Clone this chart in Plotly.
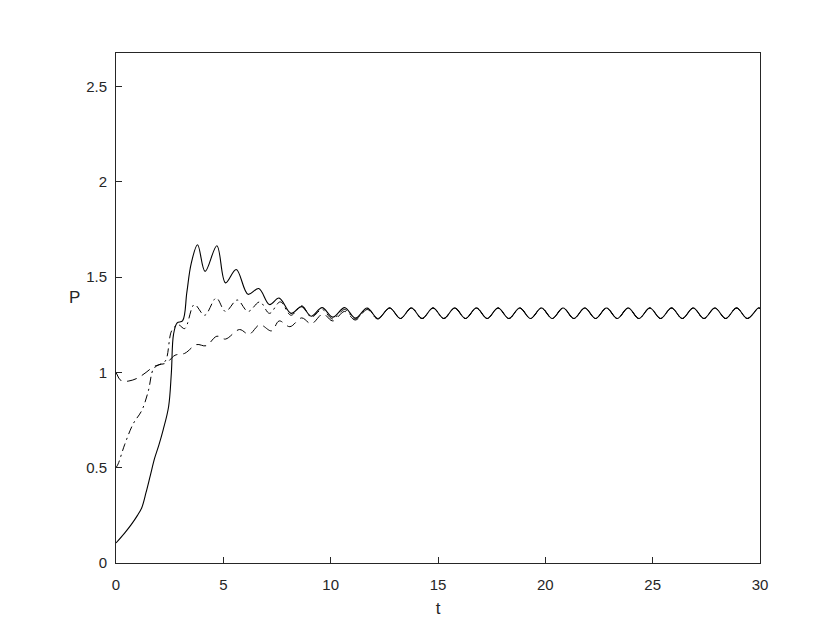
import plotly.graph_objects as go

# ---- data ----
solid_t = [0, 0.4, 0.7, 1.0, 1.2, 1.4, 1.6, 1.8, 2.0, 2.2, 2.45, 2.58, 2.68, 2.85, 3.1, 3.3, 3.5, 3.8, 4.15, 4.7, 5.1, 5.6, 6.15, 6.65, 7.15, 7.6, 8.15, 8.65, 9.1, 9.6, 10.1, 10.65, 11.15, 11.7, 12.2]
solid_p = [0.105, 0.157, 0.20, 0.25, 0.29, 0.37, 0.46, 0.55, 0.62, 0.70, 0.82, 1.0, 1.2, 1.26, 1.27, 1.42, 1.57, 1.67, 1.53, 1.665, 1.47, 1.54, 1.41, 1.44, 1.356, 1.39, 1.31, 1.345, 1.295, 1.34, 1.29, 1.34, 1.285, 1.338, 1.283]

dashdot_t = [0, 0.1, 0.4, 0.8, 1.2, 1.5, 1.75, 2.0, 2.3, 2.6, 2.9, 3.2, 3.65, 4.13, 4.67, 5.1, 5.65, 6.15, 6.7, 7.15, 7.65, 8.15, 8.65, 9.1, 9.6, 10.1, 10.65, 11.15, 11.7, 12.2]
dashdot_p = [0.5, 0.52, 0.62, 0.73, 0.80, 0.90, 1.02, 1.04, 1.06, 1.22, 1.25, 1.23, 1.356, 1.30, 1.39, 1.32, 1.38, 1.32, 1.37, 1.31, 1.37, 1.30, 1.35, 1.29, 1.33, 1.28, 1.33, 1.28, 1.335, 1.283]

dashed_t = [0, 0.25, 0.6, 1.0, 1.4, 1.75, 2.0, 2.35, 2.75, 3.2, 3.75, 4.2, 4.7, 5.1, 5.75, 6.2, 6.7, 7.25, 7.6, 8.1, 8.65, 9.1, 9.64, 10.1, 10.65, 11.15, 11.7, 12.2]
dashed_p = [1.0, 0.955, 0.955, 0.97, 1.0, 1.03, 1.04, 1.05, 1.09, 1.10, 1.146, 1.14, 1.19, 1.175, 1.225, 1.20, 1.25, 1.218, 1.27, 1.24, 1.286, 1.255, 1.307, 1.27, 1.32, 1.275, 1.33, 1.28]

# steady-state oscillation shared by all three curves (peaks and troughs)
steady_t = [12.75, 13.25, 13.76, 14.26, 14.77, 15.27, 15.78, 16.28, 16.79, 17.29, 17.80, 18.30, 18.81, 19.31,
            19.82, 20.32, 20.83, 21.33, 21.84, 22.34, 22.85, 23.35, 23.86, 24.36, 24.87, 25.37, 25.88, 26.38,
            26.89, 27.39, 27.90, 28.40, 28.91, 29.41, 29.92, 30.0]
steady_p = [1.338, 1.283, 1.338, 1.283, 1.338, 1.283, 1.338, 1.283, 1.338, 1.283, 1.338, 1.283, 1.338, 1.283,
            1.338, 1.283, 1.338, 1.283, 1.338, 1.283, 1.338, 1.283, 1.338, 1.283, 1.338, 1.283, 1.338, 1.283,
            1.338, 1.283, 1.338, 1.283, 1.338, 1.283, 1.338, 1.336]

x_ticks = [0, 5, 10, 15, 20, 25, 30]
y_ticks = [0, 0.5, 1, 1.5, 2, 2.5]
y_tick_text = ["0", "0.5", "1", "1.5", "2", "2.5"]

axis_col = "#262626"
font_family = "Liberation Sans, Arial, sans-serif"

fig = go.Figure()
fig.add_trace(go.Scatter(x=dashed_t + steady_t, y=dashed_p + steady_p, mode="lines",
                         line=dict(color="black", width=1.0, dash="10px,6px", shape="spline", smoothing=1.0),
                         showlegend=False))
fig.add_trace(go.Scatter(x=dashdot_t + steady_t, y=dashdot_p + steady_p, mode="lines",
                         line=dict(color="black", width=1.0, dash="8px,4px,2px,4px", shape="spline", smoothing=1.0),
                         showlegend=False))
fig.add_trace(go.Scatter(x=solid_t + steady_t, y=solid_p + steady_p, mode="lines",
                         line=dict(color="black", width=1.1, shape="spline", smoothing=1.0),
                         showlegend=False))

axis_common = dict(showline=True, mirror=True, linecolor=axis_col, linewidth=1,
                   ticks="inside", ticklen=6, tickcolor=axis_col, tickwidth=1,
                   showgrid=False, zeroline=False,
                   tickfont=dict(family=font_family, size=15, color=axis_col))

fig.update_layout(
    width=830, height=623,
    margin=dict(l=108, r=78, t=45, b=68),
    paper_bgcolor="white", plot_bgcolor="white",
    font=dict(family=font_family, color=axis_col),
    xaxis=dict(range=[0, 30], tickvals=x_ticks, ticklabelstandoff=8,
               title=dict(text="t", font=dict(size=17, color=axis_col), standoff=10), **axis_common),
    yaxis=dict(range=[0, 2.676], tickvals=y_ticks, ticktext=y_tick_text, ticklabelstandoff=5, **axis_common),
    annotations=[dict(text="P", xref="paper", yref="paper", x=-0.065, y=0.52,
                      xanchor="center", yanchor="middle", showarrow=False,
                      font=dict(family=font_family, size=17, color=axis_col))],
)

fig.write_html("out.html")
